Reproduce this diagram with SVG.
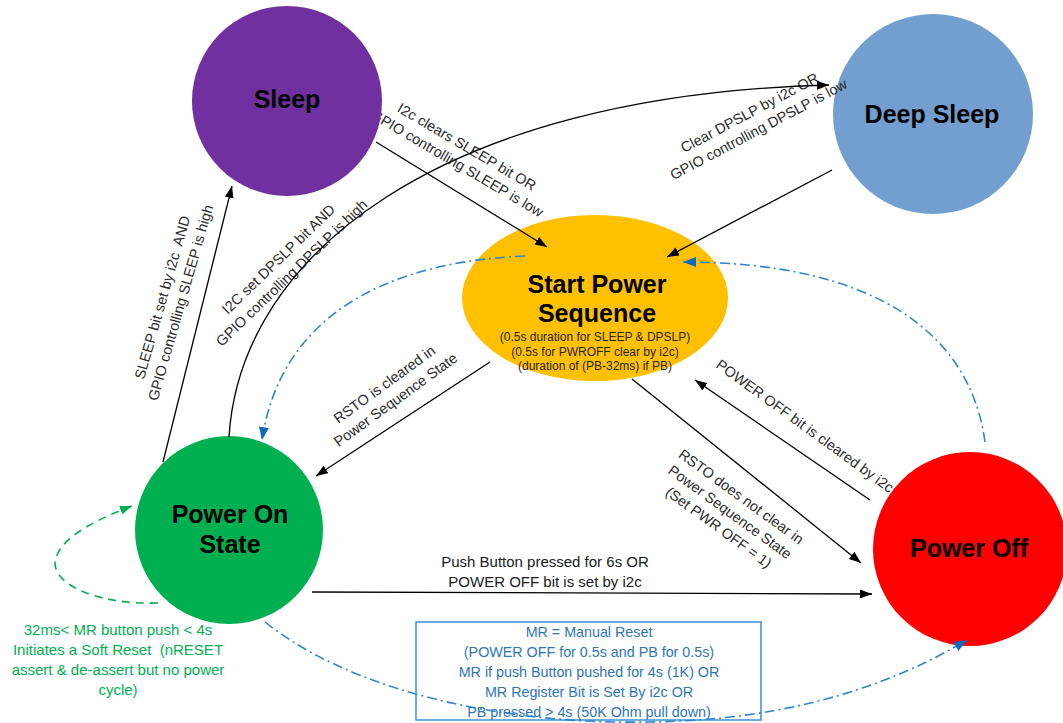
<svg xmlns="http://www.w3.org/2000/svg" width="1063" height="723" viewBox="0 0 1063 723">
<style>
.title{font-family:"Liberation Sans",Arial,sans-serif;font-weight:bold;font-size:25px;fill:#000;text-anchor:middle}
.lbl{font-family:"Liberation Sans",Arial,sans-serif;font-size:14.5px;fill:#2b2b2b;text-anchor:middle}
.hl{font-family:"Liberation Sans",Arial,sans-serif;font-size:15px;fill:#1a1a1a;text-anchor:middle}
.small{font-family:"Liberation Sans",Arial,sans-serif;font-size:12px;fill:#262626;text-anchor:middle}
.green{font-family:"Liberation Sans",Arial,sans-serif;font-size:15px;fill:#00B050;text-anchor:middle}
.blue{font-family:"Liberation Sans",Arial,sans-serif;font-size:14.3px;fill:#2E75B6;text-anchor:middle}
.edge{fill:none;stroke:#000;stroke-width:1.3}
.dd{fill:none;stroke:#2E86D1;stroke-width:1.6;stroke-dasharray:10 4 2 4}
.gd{fill:none;stroke:#00B050;stroke-width:1.6;stroke-dasharray:8 6}
</style>
<defs>
<marker id="ab" markerUnits="userSpaceOnUse" markerWidth="12" markerHeight="9" refX="12" refY="4.5" orient="auto"><path d="M0,0 L12,4.5 L0,9 z" fill="#000"/></marker>
<marker id="abl" markerUnits="userSpaceOnUse" markerWidth="13" markerHeight="10" refX="13" refY="5" orient="auto"><path d="M0,0 L13,5 L0,10 z" fill="#0B6BC0"/></marker>
<marker id="agr" markerUnits="userSpaceOnUse" markerWidth="12" markerHeight="9" refX="12" refY="4.5" orient="auto"><path d="M0,0 L12,4.5 L0,9 z" fill="#00B050"/></marker>
</defs>

<g id="labels">
<g transform="translate(171.5,300) rotate(-74)"><text class="lbl" y="-4.5" xml:space="preserve">SLEEP bit set by i2c  AND</text><text class="lbl" y="14.5">GPIO controlling SLEEP is high</text></g>
<g transform="translate(285,266) rotate(-44)"><text class="lbl" y="-4.5">I2C set DPSLP bit AND</text><text class="lbl" y="14.5">GPIO controlling DPSLP is high</text></g>
<g transform="translate(462,155) rotate(30.5)"><text class="lbl" y="-4.5">I2c clears SLEEP bit OR</text><text class="lbl" y="14.5">GPIO controlling SLEEP is low</text></g>
<g transform="translate(390,392) rotate(-36)"><text class="lbl" y="-4.5">RSTO is cleared in</text><text class="lbl" y="14.5">Power Sequence State</text></g>
<g transform="translate(730,512) rotate(36)"><text class="lbl" y="-14">RSTO does not clear in</text><text class="lbl" y="5">Power Sequence State</text><text class="lbl" y="24">(Set PWR OFF = 1)</text></g>
<g transform="translate(805,426) rotate(36)"><text class="lbl" y="5">POWER OFF bit is cleared by i2c</text></g>
<text class="hl" x="545" y="567">Push Button pressed for 6s OR</text>
<text class="hl" x="545" y="587">POWER OFF bit is set by i2c</text>
<text class="green" x="118" y="635">32ms&lt; MR button push &lt; 4s</text>
<text class="green" x="118" y="655" xml:space="preserve">Initiates a Soft Reset  (nRESET</text>
<text class="green" x="118" y="675">assert &amp; de-assert but no power</text>
<text class="green" x="118" y="695">cycle)</text>
</g>

<g id="mr-note">
<rect x="416" y="622" width="345" height="98" fill="#fff" stroke="#3C8FD8" stroke-width="1.5"/>
<text class="blue" x="589" y="637">MR = Manual Reset</text>
<text class="blue" x="589" y="657">(POWER OFF for 0.5s and PB for 0.5s)</text>
<text class="blue" x="589" y="677">MR if push Button pushed for 4s (1K) OR</text>
<text class="blue" x="589" y="697">MR Register Bit is Set By i2c OR</text>
<text class="blue" x="589" y="717">PB pressed &gt; 4s (50K Ohm pull down)</text>
</g>

<g id="sleep"><circle cx="287" cy="101" r="95" fill="#7030A0"/><text class="title" x="287" y="108">Sleep</text></g>
<g id="deep-sleep"><circle cx="933" cy="114" r="100" fill="#729FCF"/><text class="title" x="932" y="123">Deep Sleep</text></g>
<g id="start-power-sequence"><ellipse cx="595" cy="298" rx="133" ry="83" fill="#FFC000"/>
<text class="title" x="597" y="293">Start Power</text><text class="title" x="597" y="322">Sequence</text>
<text class="small" x="595" y="341">(0.5s duration for SLEEP &amp; DPSLP)</text>
<text class="small" x="595" y="356">(0.5s for PWROFF clear by i2c)</text>
<text class="small" x="595" y="370">(duration of (PB-32ms) if PB)</text></g>
<g id="power-on"><circle cx="229" cy="530" r="94" fill="#00B050"/><text class="title" x="230" y="523">Power On</text><text class="title" x="230" y="553">State</text></g>
<g id="power-off"><circle cx="970" cy="549" r="97" fill="#FF0000"/><text class="title" x="969" y="557">Power Off</text></g>

<g id="labels-top">
<g transform="translate(754,121) rotate(-28)"><text class="lbl" y="-4.5">Clear DPSLP by i2c OR</text><text class="lbl" y="14.5">GPIO controlling DPSLP is low</text></g>
</g>

<g id="connectors">
<path class="edge" d="M163,462 L232,186" marker-end="url(#ab)"/>
<path class="edge" d="M229,437 C240,255 440,95 829,85" marker-end="url(#ab)"/>
<path class="edge" d="M376,142 L547,247" marker-end="url(#ab)"/>
<path class="edge" d="M832,170 L667,257" marker-end="url(#ab)"/>
<path class="edge" d="M490,362 L316,476" marker-end="url(#ab)"/>
<path class="edge" d="M632,379 L861,563" marker-end="url(#ab)"/>
<path class="edge" d="M870,500 L695,380" marker-end="url(#ab)"/>
<path class="edge" d="M312,592 L872,594" marker-end="url(#ab)"/>
<path class="dd" d="M525,256 C380,262 280,320 262,440" marker-end="url(#abl)"/>
<path class="dd" d="M985,442 C970,330 870,262 683,262" marker-end="url(#abl)"/>
<path class="dd" d="M265,622 C350,690 500,725 650,722 C800,720 900,680 967,640" marker-end="url(#abl)"/>
<path class="gd" d="M158,603 C90,605 45,580 57,555 C65,535 100,518 132,506" marker-end="url(#agr)"/>
</g>
</svg>
